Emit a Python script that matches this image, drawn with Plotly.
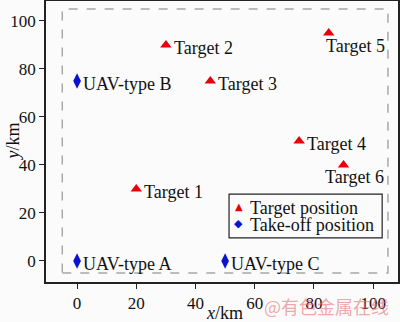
import plotly.graph_objects as go

# Take-off points of the three UAV types (km)
uav_names = ["UAV-type A", "UAV-type B", "UAV-type C"]
uav_x = [0, 0, 50]
uav_y = [0, 75, 0]

# Target locations (km)
target_names = ["Target 1", "Target 2", "Target 3", "Target 4", "Target 5", "Target 6"]
target_x = [20, 30, 45, 75, 85, 90]
target_y = [30, 90, 75, 50, 95, 40]

# Mission area boundary (km)
area_min = -5
area_max = 105

tick_vals = [0, 20, 40, 60, 80, 100]

legend_labels = ["Target position", "Take-off position"]

FONT = "Liberation Serif"
RED = "#e8000b"
BLUE = "#0a14d0"

fig = go.Figure()

fig.add_trace(go.Scatter(
    x=target_x, y=target_y, mode="markers", name=legend_labels[0],
    marker=dict(symbol="triangle-up", size=10, color=RED),
))
fig.add_trace(go.Scatter(
    x=uav_x, y=uav_y, mode="markers", name=legend_labels[1],
    marker=dict(symbol="diamond-tall", size=11, color=BLUE),
))

# Dashed mission area
fig.add_shape(type="rect", x0=area_min, x1=area_max, y0=area_min, y1=area_max,
              line=dict(color="#a8a8a8", width=1.5, dash="dash"), layer="below")

# Point labels: (dx, dy) pixel offsets of the text's left/middle from the marker
label_offsets = {
    "Target 1": (6, -3), "Target 2": (6, -3), "Target 3": (6, -3),
    "Target 4": (6, -3), "Target 5": (-5, -13), "Target 6": (-21, -12),
}
for name, x, y in zip(target_names, target_x, target_y):
    dx, dy = label_offsets[name]
    fig.add_annotation(x=x, y=y, text=name, showarrow=False, xanchor="left",
                       yanchor="middle", xshift=dx, yshift=dy,
                       font=dict(family=FONT, size=18, color="#111"))
for name, x, y in zip(uav_names, uav_x, uav_y):
    fig.add_annotation(x=x, y=y, text=name, showarrow=False, xanchor="left",
                       yanchor="middle", xshift=4, yshift=-3,
                       font=dict(family=FONT, size=18, color="#111"))

# Compact boxed key in the lower right of the plot
fig.add_shape(type="rect", xref="paper", yref="paper", x0=0.520, x1=0.955,
              y0=0.157, y1=0.313, line=dict(color="#222", width=1.2),
              fillcolor="#fbfbfb")
key_rows = [(0.268, "▲", RED, 10), (0.207, "◆", BLUE, 11)]
for (ky, glyph, col, gsize), label in zip(key_rows, legend_labels):
    fig.add_annotation(xref="paper", yref="paper", x=0.548, y=ky, text=glyph,
                       showarrow=False, xanchor="center", yanchor="middle",
                       font=dict(family="DejaVu Sans", size=gsize, color=col))
    fig.add_annotation(xref="paper", yref="paper", x=0.575, y=ky, text=label,
                       showarrow=False, xanchor="left", yanchor="middle", yshift=-1,
                       font=dict(family=FONT, size=18, color="#111"))

# Axis titles
fig.add_annotation(xref="paper", yref="paper", x=0.508, y=0, yshift=-31,
                   text="<i>x</i>/km", showarrow=False, xanchor="center",
                   yanchor="middle", font=dict(family=FONT, size=18, color="#111"))
fig.add_annotation(xref="paper", yref="paper", x=0, y=0.5, xshift=-34,
                   text="<i>y</i>/km", showarrow=False, textangle=-90,
                   xanchor="center", yanchor="middle",
                   font=dict(family=FONT, size=18, color="#111"))

# Source mark
fig.add_annotation(xref="paper", yref="paper", x=1.0, y=0, xshift=-7, yshift=-24,
                   text="@有色金属在线", showarrow=False, xanchor="right",
                   yanchor="middle",
                   font=dict(family="Noto Sans CJK SC", size=18,
                             color="rgba(230,110,115,0.6)"))

axis_common = dict(
    showgrid=False, zeroline=False, showline=True, linecolor="#222", linewidth=1.5,
    mirror=True, ticks="outside", ticklen=5, tickwidth=1.2, tickcolor="#222",
    tickvals=tick_vals, tickfont=dict(family=FONT, size=17, color="#111"),
    automargin=False,
)

fig.update_layout(
    width=400, height=322,
    margin=dict(l=46, r=2, t=1, b=40),
    paper_bgcolor="#fbfbfb", plot_bgcolor="#fbfbfb",
    font=dict(family=FONT, size=18, color="#111"),
    xaxis=dict(range=[-10.5, 108.4], **axis_common),
    yaxis=dict(range=[-8.75, 108.3], **axis_common),
    showlegend=False,
)

fig.write_html("out.html")
